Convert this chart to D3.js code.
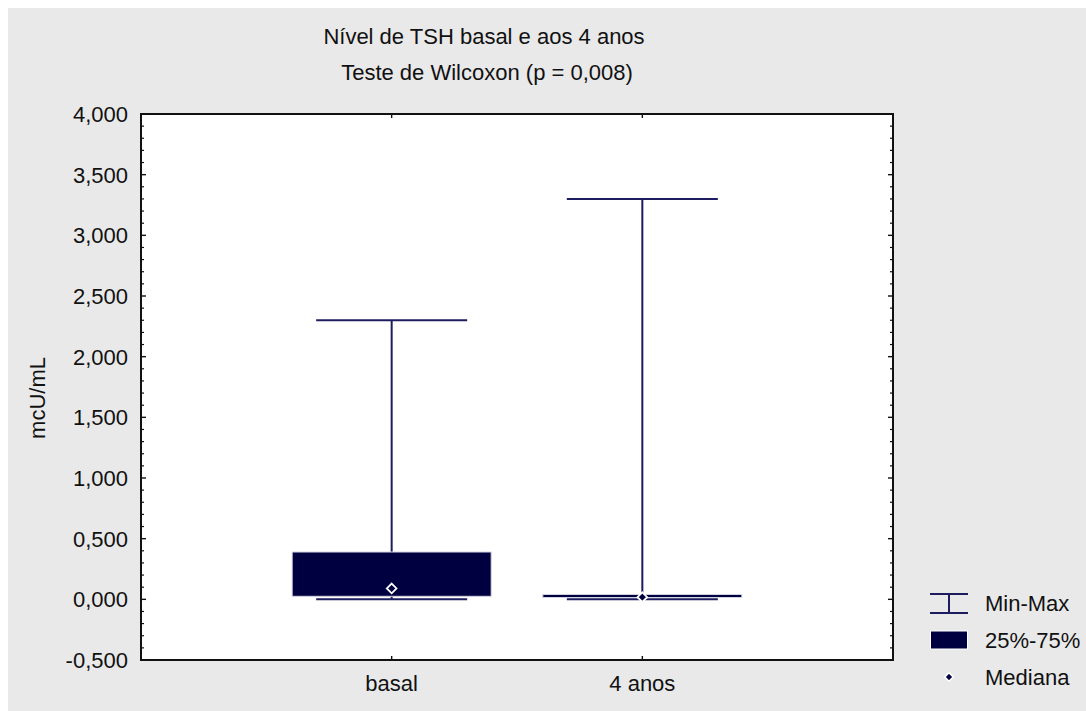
<!DOCTYPE html>
<html>
<head>
<meta charset="utf-8">
<script src="https://cdn.jsdelivr.net/npm/d3@7"></script>
<style>
  html, body { margin: 0; padding: 0; background: #ffffff; }
  svg text { font-family: "Liberation Sans", Arial, Helvetica, sans-serif; fill: #111; }
</style>
</head>
<body>
<div id="chart"></div>
<script>
// data (mcU/mL)
var categories = ['basal', '4 anos'];
var minVals    = [0.000, 0.000];
var q1Vals     = [0.025, 0.015];
var medianVals = [0.090, 0.018];
var q3Vals     = [0.390, 0.040];
var maxVals    = [2.300, 3.300];

var yDomain = [-0.5, 4.0];
var yMajorTicks = [-0.5, 0, 0.5, 1, 1.5, 2, 2.5, 3, 3.5, 4];
var yMinorStep = 0.1;

var titleText = 'Nível de TSH basal e aos 4 anos';
var subtitleText = 'Teste de Wilcoxon (p = 0,008)';
var yLabel = 'mcU/mL';
var legendLabels = ['Min-Max', '25%-75%', 'Mediana'];

var width = 1086, height = 711;
var margin = {top: 114, right: 193, bottom: 51, left: 141};
var plotW = width - margin.left - margin.right;
var plotH = height - margin.top - margin.bottom;

var navy = '#000040';
var lineCol = '#1c1c5e';
var fontSize = 22;

var locale = d3.formatLocale({decimal: ',', thousands: '.', grouping: [3], minus: '-'});
var fmt = locale.format('.3f');

var svg = d3.select('#chart').append('svg')
    .attr('width', width)
    .attr('height', height);

// grey page background (white strip at top/left like the export)
svg.append('rect')
    .attr('x', 8).attr('y', 8)
    .attr('width', width - 8).attr('height', height - 8)
    .attr('fill', '#e9e9e9');

var g = svg.append('g')
    .attr('transform', 'translate(' + margin.left + ',' + margin.top + ')');

var x = d3.scalePoint().domain(categories).range([0, plotW]).padding(1);
var y = d3.scaleLinear().domain(yDomain).range([plotH, 0]);

// plot area
g.append('rect')
    .attr('width', plotW).attr('height', plotH)
    .attr('fill', '#ffffff');

// titles
var titleX = 484;
svg.append('text')
    .attr('x', titleX).attr('y', 44)
    .attr('text-anchor', 'middle')
    .style('font-size', fontSize + 'px')
    .text(titleText);
svg.append('text')
    .attr('x', titleX + 3).attr('y', 80)
    .attr('text-anchor', 'middle')
    .style('font-size', fontSize + 'px')
    .text(subtitleText);

// y axis label
svg.append('text')
    .attr('transform', 'translate(45,' + 398 + ') rotate(-90)')
    .attr('text-anchor', 'middle')
    .style('font-size', fontSize + 'px')
    .text(yLabel);

// minor ticks (left & right, inward)
var minorTicks = d3.range(yDomain[0], yDomain[1] + 1e-9, yMinorStep)
    .filter(function(v) { return Math.abs(v * 2 - Math.round(v * 2)) > 1e-6; });

g.selectAll('.minor-l').data(minorTicks).enter().append('line')
    .attr('x1', 0).attr('x2', 3)
    .attr('y1', function(d) { return y(d); })
    .attr('y2', function(d) { return y(d); })
    .attr('stroke', '#111').attr('stroke-width', 1.2);
g.selectAll('.minor-r').data(minorTicks).enter().append('line')
    .attr('x1', plotW).attr('x2', plotW - 3)
    .attr('y1', function(d) { return y(d); })
    .attr('y2', function(d) { return y(d); })
    .attr('stroke', '#111').attr('stroke-width', 1.2);

// major ticks
g.selectAll('.major-l').data(yMajorTicks).enter().append('line')
    .attr('x1', 0).attr('x2', 5)
    .attr('y1', function(d) { return y(d); })
    .attr('y2', function(d) { return y(d); })
    .attr('stroke', '#111').attr('stroke-width', 1.4);
g.selectAll('.major-r').data(yMajorTicks).enter().append('line')
    .attr('x1', plotW).attr('x2', plotW - 5)
    .attr('y1', function(d) { return y(d); })
    .attr('y2', function(d) { return y(d); })
    .attr('stroke', '#111').attr('stroke-width', 1.4);

// y tick labels
g.selectAll('.ylab').data(yMajorTicks).enter().append('text')
    .attr('x', -13)
    .attr('y', function(d) { return y(d); })
    .attr('dy', '0.36em')
    .attr('text-anchor', 'end')
    .style('font-size', fontSize + 'px')
    .text(function(d) { return fmt(d); });

// category ticks top & bottom
g.selectAll('.xt-b').data(categories).enter().append('line')
    .attr('x1', function(d) { return x(d); }).attr('x2', function(d) { return x(d); })
    .attr('y1', plotH).attr('y2', plotH - 4)
    .attr('stroke', '#111').attr('stroke-width', 1.4);
g.selectAll('.xt-t').data(categories).enter().append('line')
    .attr('x1', function(d) { return x(d); }).attr('x2', function(d) { return x(d); })
    .attr('y1', 0).attr('y2', 4)
    .attr('stroke', '#111').attr('stroke-width', 1.4);

g.selectAll('.xlab').data(categories).enter().append('text')
    .attr('x', function(d) { return x(d); })
    .attr('y', plotH + 31)
    .attr('text-anchor', 'middle')
    .style('font-size', fontSize + 'px')
    .text(function(d) { return d; });

// box plots
var boxW = 199, capW = 151;
var rows = categories.map(function(c, i) {
    return {cat: c, min: minVals[i], q1: q1Vals[i], med: medianVals[i], q3: q3Vals[i], max: maxVals[i]};
});

var boxes = g.selectAll('.box').data(rows).enter().append('g')
    .attr('class', 'box')
    .attr('transform', function(d) { return 'translate(' + x(d.cat) + ',0)'; });

// whiskers
boxes.append('line')
    .attr('x1', 0).attr('x2', 0)
    .attr('y1', function(d) { return y(d.max); })
    .attr('y2', function(d) { return y(d.min); })
    .attr('stroke', lineCol).attr('stroke-width', 2);
boxes.append('line')
    .attr('x1', -capW / 2).attr('x2', capW / 2)
    .attr('y1', function(d) { return y(d.max); })
    .attr('y2', function(d) { return y(d.max); })
    .attr('stroke', lineCol).attr('stroke-width', 2);
boxes.append('line')
    .attr('x1', -capW / 2).attr('x2', capW / 2)
    .attr('y1', function(d) { return y(d.min); })
    .attr('y2', function(d) { return y(d.min); })
    .attr('stroke', lineCol).attr('stroke-width', 2);

// 25%-75% box
boxes.append('rect')
    .attr('x', -boxW / 2)
    .attr('y', function(d) { return y(d.q3); })
    .attr('width', boxW)
    .attr('height', function(d) { return Math.max(2, y(d.q1) - y(d.q3)); })
    .attr('fill', navy)
    .attr('stroke', '#d4d4e4').attr('stroke-width', 1);

// median diamond
var diamond = d3.symbol().type(d3.symbolDiamond2).size(60);
boxes.append('path')
    .attr('d', diamond)
    .attr('transform', function(d) { return 'translate(0,' + y(d.med) + ')'; })
    .attr('fill', navy)
    .attr('stroke', '#ffffff').attr('stroke-width', 1.8);

// frame
g.append('rect')
    .attr('width', plotW).attr('height', plotH)
    .attr('fill', 'none')
    .attr('stroke', '#111').attr('stroke-width', 2);

// legend
var lg = svg.append('g').attr('transform', 'translate(930,0)');
var lgRowY = [603, 640, 677];

var l0 = lg.append('g').attr('transform', 'translate(0,' + lgRowY[0] + ')');
l0.append('line').attr('x1', 0).attr('x2', 38).attr('y1', -9).attr('y2', -9)
    .attr('stroke', lineCol).attr('stroke-width', 2);
l0.append('line').attr('x1', 0).attr('x2', 38).attr('y1', 10).attr('y2', 10)
    .attr('stroke', lineCol).attr('stroke-width', 2);
l0.append('line').attr('x1', 19).attr('x2', 19).attr('y1', -9).attr('y2', 10)
    .attr('stroke', lineCol).attr('stroke-width', 2);

var l1 = lg.append('g').attr('transform', 'translate(0,' + lgRowY[1] + ')');
l1.append('rect').attr('x', 0.5).attr('y', -9).attr('width', 37).attr('height', 18)
    .attr('fill', navy).attr('stroke', '#ffffff').attr('stroke-width', 1);

var l2 = lg.append('g').attr('transform', 'translate(19,' + lgRowY[2] + ')');
l2.append('path').attr('d', d3.symbol().type(d3.symbolDiamond2).size(45))
    .attr('fill', navy).attr('stroke', '#ffffff').attr('stroke-width', 1.6);

lg.selectAll('.lgtext').data(legendLabels).enter().append('text')
    .attr('x', 55)
    .attr('y', function(d, i) { return lgRowY[i]; })
    .attr('dy', '0.36em')
    .style('font-size', fontSize + 'px')
    .text(function(d) { return d; });
</script>
</body>
</html>
